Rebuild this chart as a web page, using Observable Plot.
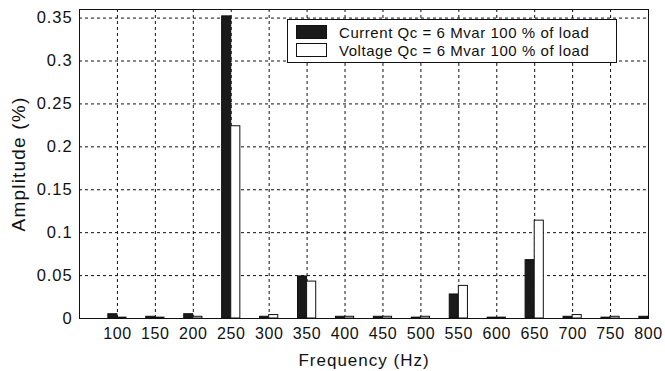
<!DOCTYPE html>
<html>
<head>
<meta charset="utf-8">
<script src="https://cdn.jsdelivr.net/npm/d3@7"></script>
<script src="https://cdn.jsdelivr.net/npm/@observablehq/plot@0.6"></script>
<style>
  body { margin: 0; background: #fff; }
  #wrap { position: relative; width: 665px; height: 371px; font-family: "Liberation Sans", Arial, sans-serif; }
  #legend { position: absolute; left: 287px; top: 19px; width: 330px; height: 44px; box-sizing: border-box;
            border: 1px solid #111; background: #fff; font-size: 15px; letter-spacing: 0.55px; color: #111; }
  .row { position: absolute; left: 8px; height: 16px; display: flex; align-items: center; white-space: nowrap; }
  .sw { width: 31px; height: 14px; box-sizing: border-box; border: 1px solid #111; margin-right: 12px; }
  #wrap svg g[aria-label="x-axis tick label"] text { font-size: 16px; letter-spacing: 0.6px; }
  #wrap svg g[aria-label="y-axis tick label"] text { font-size: 16.5px; letter-spacing: 0.9px; }
  #wrap svg g[aria-label="x-axis label"] text { font-size: 17px; letter-spacing: 1px; }
  #wrap svg g[aria-label="y-axis label"] text { font-size: 19px; letter-spacing: 1.2px; }
</style>
</head>
<body>
<div id="wrap"></div>
<script>
const freqs = [100, 150, 200, 250, 300, 350, 400, 450, 500, 550, 600, 650, 700, 750, 800];
const currentVals = [0.005, 0.002, 0.005, 0.352, 0.002, 0.049, 0.002, 0.002, 0.001, 0.028, 0.001, 0.068, 0.002, 0.001, 0.002];
const voltageVals = [0.001, 0.001, 0.002, 0.224, 0.004, 0.043, 0.002, 0.002, 0.002, 0.038, 0.001, 0.114, 0.004, 0.002, 0.002];
const yTicks = [0, 0.05, 0.1, 0.15, 0.2, 0.25, 0.3, 0.35];
const seriesNames = ["Current Qc = 6 Mvar 100 % of load", "Voltage Qc = 6 Mvar 100 % of load"];

const barW = 12;
const current = freqs.map((f, i) => ({f, v: currentVals[i]}));
const voltage = freqs.map((f, i) => ({f, v: voltageVals[i]}));

const chart = Plot.plot({
  width: 665,
  height: 371,
  marginLeft: 79,
  marginRight: 17,
  marginTop: 9,
  marginBottom: 53,
  style: {fontFamily: "'Liberation Sans', Arial, sans-serif", fontSize: "16px", color: "#111", background: "#fff"},
  x: {type: "linear", domain: [50, 800]},
  y: {domain: [0, 0.36]},
  marks: [
    Plot.gridX(freqs, {stroke: "#111", strokeOpacity: 1, strokeDasharray: "3,3"}),
    Plot.gridY(yTicks, {stroke: "#111", strokeOpacity: 1, strokeDasharray: "3,3"}),
    Plot.rectY(current, {x1: d => d.f - barW, x2: d => d.f, y: "v", fill: "#1a1a1a", stroke: "#111", strokeWidth: 1, clip: true}),
    Plot.rectY(voltage, {x1: d => d.f, x2: d => d.f + barW, y: "v", fill: "#fff", stroke: "#111", strokeWidth: 1, clip: true}),
    Plot.frame({stroke: "#111", strokeWidth: 1}),
    Plot.axisX(freqs, {tickSize: 0, tickPadding: 9, label: "Frequency (Hz)", labelAnchor: "center", labelArrow: "none", labelOffset: 47, tickFormat: d => String(d)}),
    Plot.axisY(yTicks, {tickSize: 0, tickPadding: 7, label: "Amplitude (%)", labelAnchor: "center", labelArrow: "none", labelOffset: 68, tickFormat: d => String(d)})
  ]
});
const wrap = document.getElementById("wrap");
wrap.appendChild(chart);

const legend = document.createElement("div");
legend.id = "legend";
seriesNames.forEach((name, i) => {
  const row = document.createElement("div");
  row.className = "row";
  row.style.top = (i === 0 ? 4 : 22) + "px";
  const sw = document.createElement("span");
  sw.className = "sw";
  sw.style.background = i === 0 ? "#1a1a1a" : "#fff";
  const t = document.createElement("span");
  t.textContent = name;
  row.appendChild(sw);
  row.appendChild(t);
  legend.appendChild(row);
});
wrap.appendChild(legend);
</script>
</body>
</html>
